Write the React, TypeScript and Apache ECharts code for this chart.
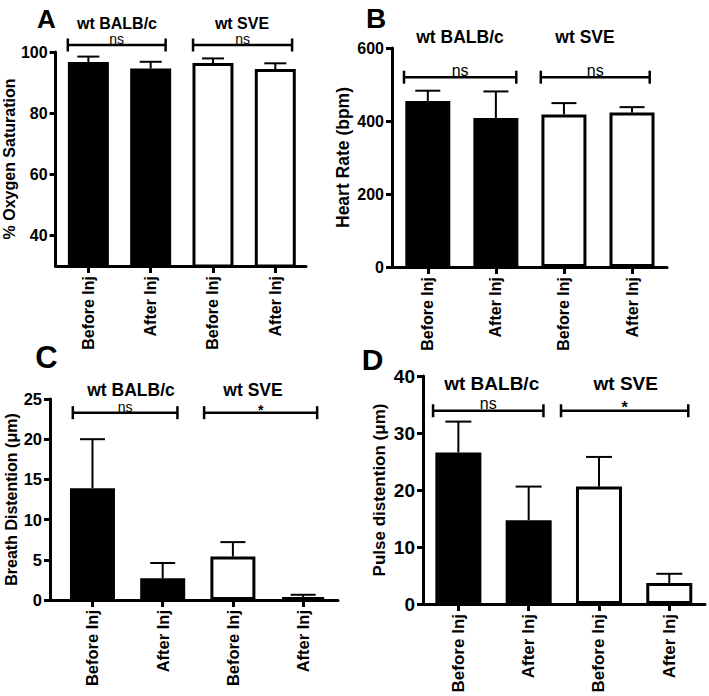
import React, { useEffect, useRef } from "react";
import * as echarts from "echarts";

const FONT = "'Liberation Sans', Arial, Helvetica, sans-serif";

const categories = ["Before Inj", "After Inj", "Before Inj", "After Inj"];
const groupNames = ["wt BALB/c", "wt SVE"];
const barFill = ["#000000", "#000000", "#ffffff", "#ffffff"];
const categoryPositions = [0, 1, 2, 3];

// Panel A: % oxygen saturation (mean, SEM)
const oxygenMean = [96.7, 94.6, 96.4, 94.4];
const oxygenSem = [1.8, 2.2, 1.5, 1.9];
const oxygenTicks = [40, 60, 80, 100];
// Panel B: heart rate (bpm)
const heartMean = [455, 408, 418, 423];
const heartSem = [28, 73, 31, 15];
const heartTicks = [0, 200, 400, 600];
// Panel C: breath distention (um)
const breathMean = [13.9, 2.7, 5.4, 0.35];
const breathSem = [6.1, 1.9, 1.8, 0.3];
const breathTicks = [0, 5, 10, 15, 20, 25];
// Panel D: pulse distention (um)
const pulseMean = [26.6, 14.7, 20.6, 3.7];
const pulseSem = [5.4, 5.9, 5.2, 1.6];
const pulseTicks = [0, 10, 20, 30, 40];

// significance brackets: [from category, to category, level]
const oxygenBrackets = [[-0.33, 1.24, 102.3], [1.68, 3.27, 102.3]];
const oxygenSig = ["ns", "ns"];
const heartBrackets = [[-0.35, 1.3, 520], [1.66, 3.26, 520]];
const heartSig = ["ns", "ns"];
const breathBrackets = [[-0.28, 1.21, 23.3], [1.59, 3.2, 23.3]];
const breathSig = ["ns", "*"];
const pulseBrackets = [[-0.36, 1.21, 33.9], [1.46, 3.27, 33.9]];
const pulseSig = ["ns", "*"];

const panels = [
  {
    letter: "A", mean: oxygenMean, sem: oxygenSem, ticks: oxygenTicks, yMin: 30, yMax: 100,
    yName: "% Oxygen Saturation", brackets: oxygenBrackets, sig: oxygenSig,
    grid: { left: 54, top: 52, width: 252, height: 214 }, xMin: -0.526, xMax: 3.493,
    barW: 41, capW: 22, nameGap: 31, tickFont: 16, nameFont: 16, catFont: 16, sigFont: 14,
    letterPos: [46.5, 19], letterFont: 26, groupPos: [[117, 23.5], [242, 23.5]], groupFont: 16,
  },
  {
    letter: "B", mean: heartMean, sem: heartSem, ticks: heartTicks, yMin: 0, yMax: 600,
    yName: "Heart Rate (bpm)", brackets: heartBrackets, sig: heartSig,
    grid: { left: 392, top: 48, width: 275, height: 219 }, xMin: -0.526, xMax: 3.514,
    barW: 45, capW: 25, nameGap: 40, tickFont: 16, nameFont: 17.5, catFont: 16, sigFont: 16,
    letterPos: [376, 18.5], letterFont: 28, groupPos: [[460, 36.7], [585, 36.7]], groupFont: 17.5,
  },
  {
    letter: "C", mean: breathMean, sem: breathSem, ticks: breathTicks, yMin: 0, yMax: 25,
    yName: "Breath Distention (\u03bcm)", brackets: breathBrackets, sig: breathSig,
    grid: { left: 50, top: 399, width: 288, height: 201 }, xMin: -0.605, xMax: 3.497,
    barW: 45, capW: 25, nameGap: 25, tickFont: 16.5, nameFont: 16, catFont: 16.5, sigFont: 14,
    letterPos: [46.5, 357], letterFont: 31, groupPos: [[131, 390], [253, 390]], groupFont: 17.5,
  },
  {
    letter: "D", mean: pulseMean, sem: pulseSem, ticks: pulseTicks, yMin: 0, yMax: 40,
    yName: "Pulse distention (\u03bcm)", brackets: pulseBrackets, sig: pulseSig,
    grid: { left: 423, top: 376, width: 282, height: 228 }, xMin: -0.503, xMax: 3.508,
    barW: 46, capW: 26, nameGap: 35, tickFont: 19, nameFont: 17, catFont: 17, sigFont: 16,
    letterPos: [372.5, 359], letterFont: 30, groupPos: [[491.7, 383], [625.7, 383]], groupFont: 19,
  },
];

function buildOption() {
  const grid: any[] = [];
  const xAxis: any[] = [];
  const yAxis: any[] = [];
  const series: any[] = [];
  const graphic: any[] = [];

  panels.forEach((p, i) => {
    grid.push({ ...p.grid, containLabel: false });
    xAxis.push({
      type: "value",
      gridIndex: i,
      min: p.xMin,
      max: p.xMax,
      splitLine: { show: false },
      axisLine: { show: true, onZero: false, lineStyle: { color: "#000", width: 3 } },
      axisTick: { show: true, length: 7, customValues: categoryPositions, lineStyle: { color: "#000", width: 3 } },
      axisLabel: {
        customValues: categoryPositions,
        formatter: (v: number) => categories[Math.round(v)] ?? "",
        rotate: 90,
        margin: 10,
        color: "#000",
        fontFamily: FONT,
        fontWeight: "bold",
        fontSize: p.catFont,
      },
    });
    yAxis.push({
      type: "value",
      gridIndex: i,
      min: p.yMin,
      max: p.yMax,
      splitLine: { show: false },
      axisLine: { show: true, onZero: false, lineStyle: { color: "#000", width: 3 } },
      axisTick: { show: true, length: 6, customValues: p.ticks, lineStyle: { color: "#000", width: 3 } },
      axisLabel: {
        customValues: p.ticks,
        margin: 8,
        color: "#000",
        fontFamily: FONT,
        fontWeight: "bold",
        fontSize: p.tickFont,
      },
      name: p.yName,
      nameLocation: "middle",
      nameGap: p.nameGap,
      nameTextStyle: { color: "#000", fontFamily: FONT, fontWeight: "bold", fontSize: p.nameFont },
    });

    series.push({
      type: "bar",
      xAxisIndex: i,
      yAxisIndex: i,
      barWidth: p.barW,
      data: p.mean.map((v, k) => ({
        value: [categoryPositions[k], v],
        itemStyle: { color: barFill[k], borderColor: "#000", borderWidth: 3 },
      })),
      z: 2,
    });

    const capW = p.capW;
    series.push({
      type: "custom",
      xAxisIndex: i,
      yAxisIndex: i,
      clip: false,
      z: 3,
      encode: { x: 0, y: 1 },
      data: p.mean.map((v, k) => [categoryPositions[k], v, p.sem[k]]),
      renderItem: (params: any, api: any) => {
        const x = api.value(0);
        const m = api.value(1);
        const s = api.value(2);
        const base = api.coord([x, m]);
        const top = api.coord([x, m + s]);
        return {
          type: "group",
          children: [
            { type: "line", shape: { x1: base[0], y1: base[1], x2: top[0], y2: top[1] }, style: { stroke: "#000", lineWidth: 2 } },
            { type: "line", shape: { x1: top[0] - capW / 2, y1: top[1], x2: top[0] + capW / 2, y2: top[1] }, style: { stroke: "#000", lineWidth: 2 } },
          ],
        };
      },
    });

    const sig = p.sig;
    const sigFont = p.sigFont;
    series.push({
      type: "custom",
      xAxisIndex: i,
      yAxisIndex: i,
      clip: false,
      z: 3,
      encode: { x: [0, 1], y: 2 },
      data: p.brackets,
      renderItem: (params: any, api: any) => {
        const a = api.coord([api.value(0), api.value(2)]);
        const b = api.coord([api.value(1), api.value(2)]);
        const label = sig[params.dataIndex];
        const star = label === "*";
        const st = { stroke: "#000", lineWidth: 2.5 };
        return {
          type: "group",
          children: [
            { type: "line", shape: { x1: a[0], y1: a[1], x2: b[0], y2: b[1] }, style: st },
            { type: "line", shape: { x1: a[0], y1: a[1] - 6.5, x2: a[0], y2: a[1] + 6.5 }, style: st },
            { type: "line", shape: { x1: b[0], y1: b[1] - 6.5, x2: b[0], y2: b[1] + 6.5 }, style: st },
            {
              type: "text",
              x: (a[0] + b[0]) / 2,
              y: star ? a[1] - 3 : a[1] + 1,
              style: {
                text: label,
                fill: "#000",
                fontFamily: FONT,
                fontSize: sigFont,
                fontWeight: star ? "bold" : "normal",
                align: "center",
                verticalAlign: star ? "middle" : "bottom",
              },
            },
          ],
        };
      },
    });

    graphic.push({
      type: "text",
      x: p.letterPos[0],
      y: p.letterPos[1],
      style: {
        text: p.letter,
        fill: "#000",
        fontFamily: FONT,
        fontWeight: "bold",
        fontSize: p.letterFont,
        align: "center",
        verticalAlign: "middle",
      },
    });
    groupNames.forEach((g, k) => {
      graphic.push({
        type: "text",
        x: p.groupPos[k][0],
        y: p.groupPos[k][1],
        style: {
          text: g,
          fill: "#000",
          fontFamily: FONT,
          fontWeight: "bold",
          fontSize: p.groupFont,
          align: "center",
          verticalAlign: "middle",
        },
      });
    });
  });

  return {
    animation: false,
    backgroundColor: "#ffffff",
    textStyle: { fontFamily: FONT },
    grid,
    xAxis,
    yAxis,
    series,
    graphic,
  };
}

export default function App() {
  const ref = useRef<HTMLDivElement>(null);
  useEffect(() => {
    if (!ref.current) return;
    const chart = echarts.init(ref.current, undefined, { renderer: "svg" });
    chart.setOption(buildOption() as any);
    return () => chart.dispose();
  }, []);
  return (
    <div
      ref={ref}
      style={{ position: "absolute", left: 0, top: 0, width: 709, height: 696, background: "#fff" }}
    />
  );
}
